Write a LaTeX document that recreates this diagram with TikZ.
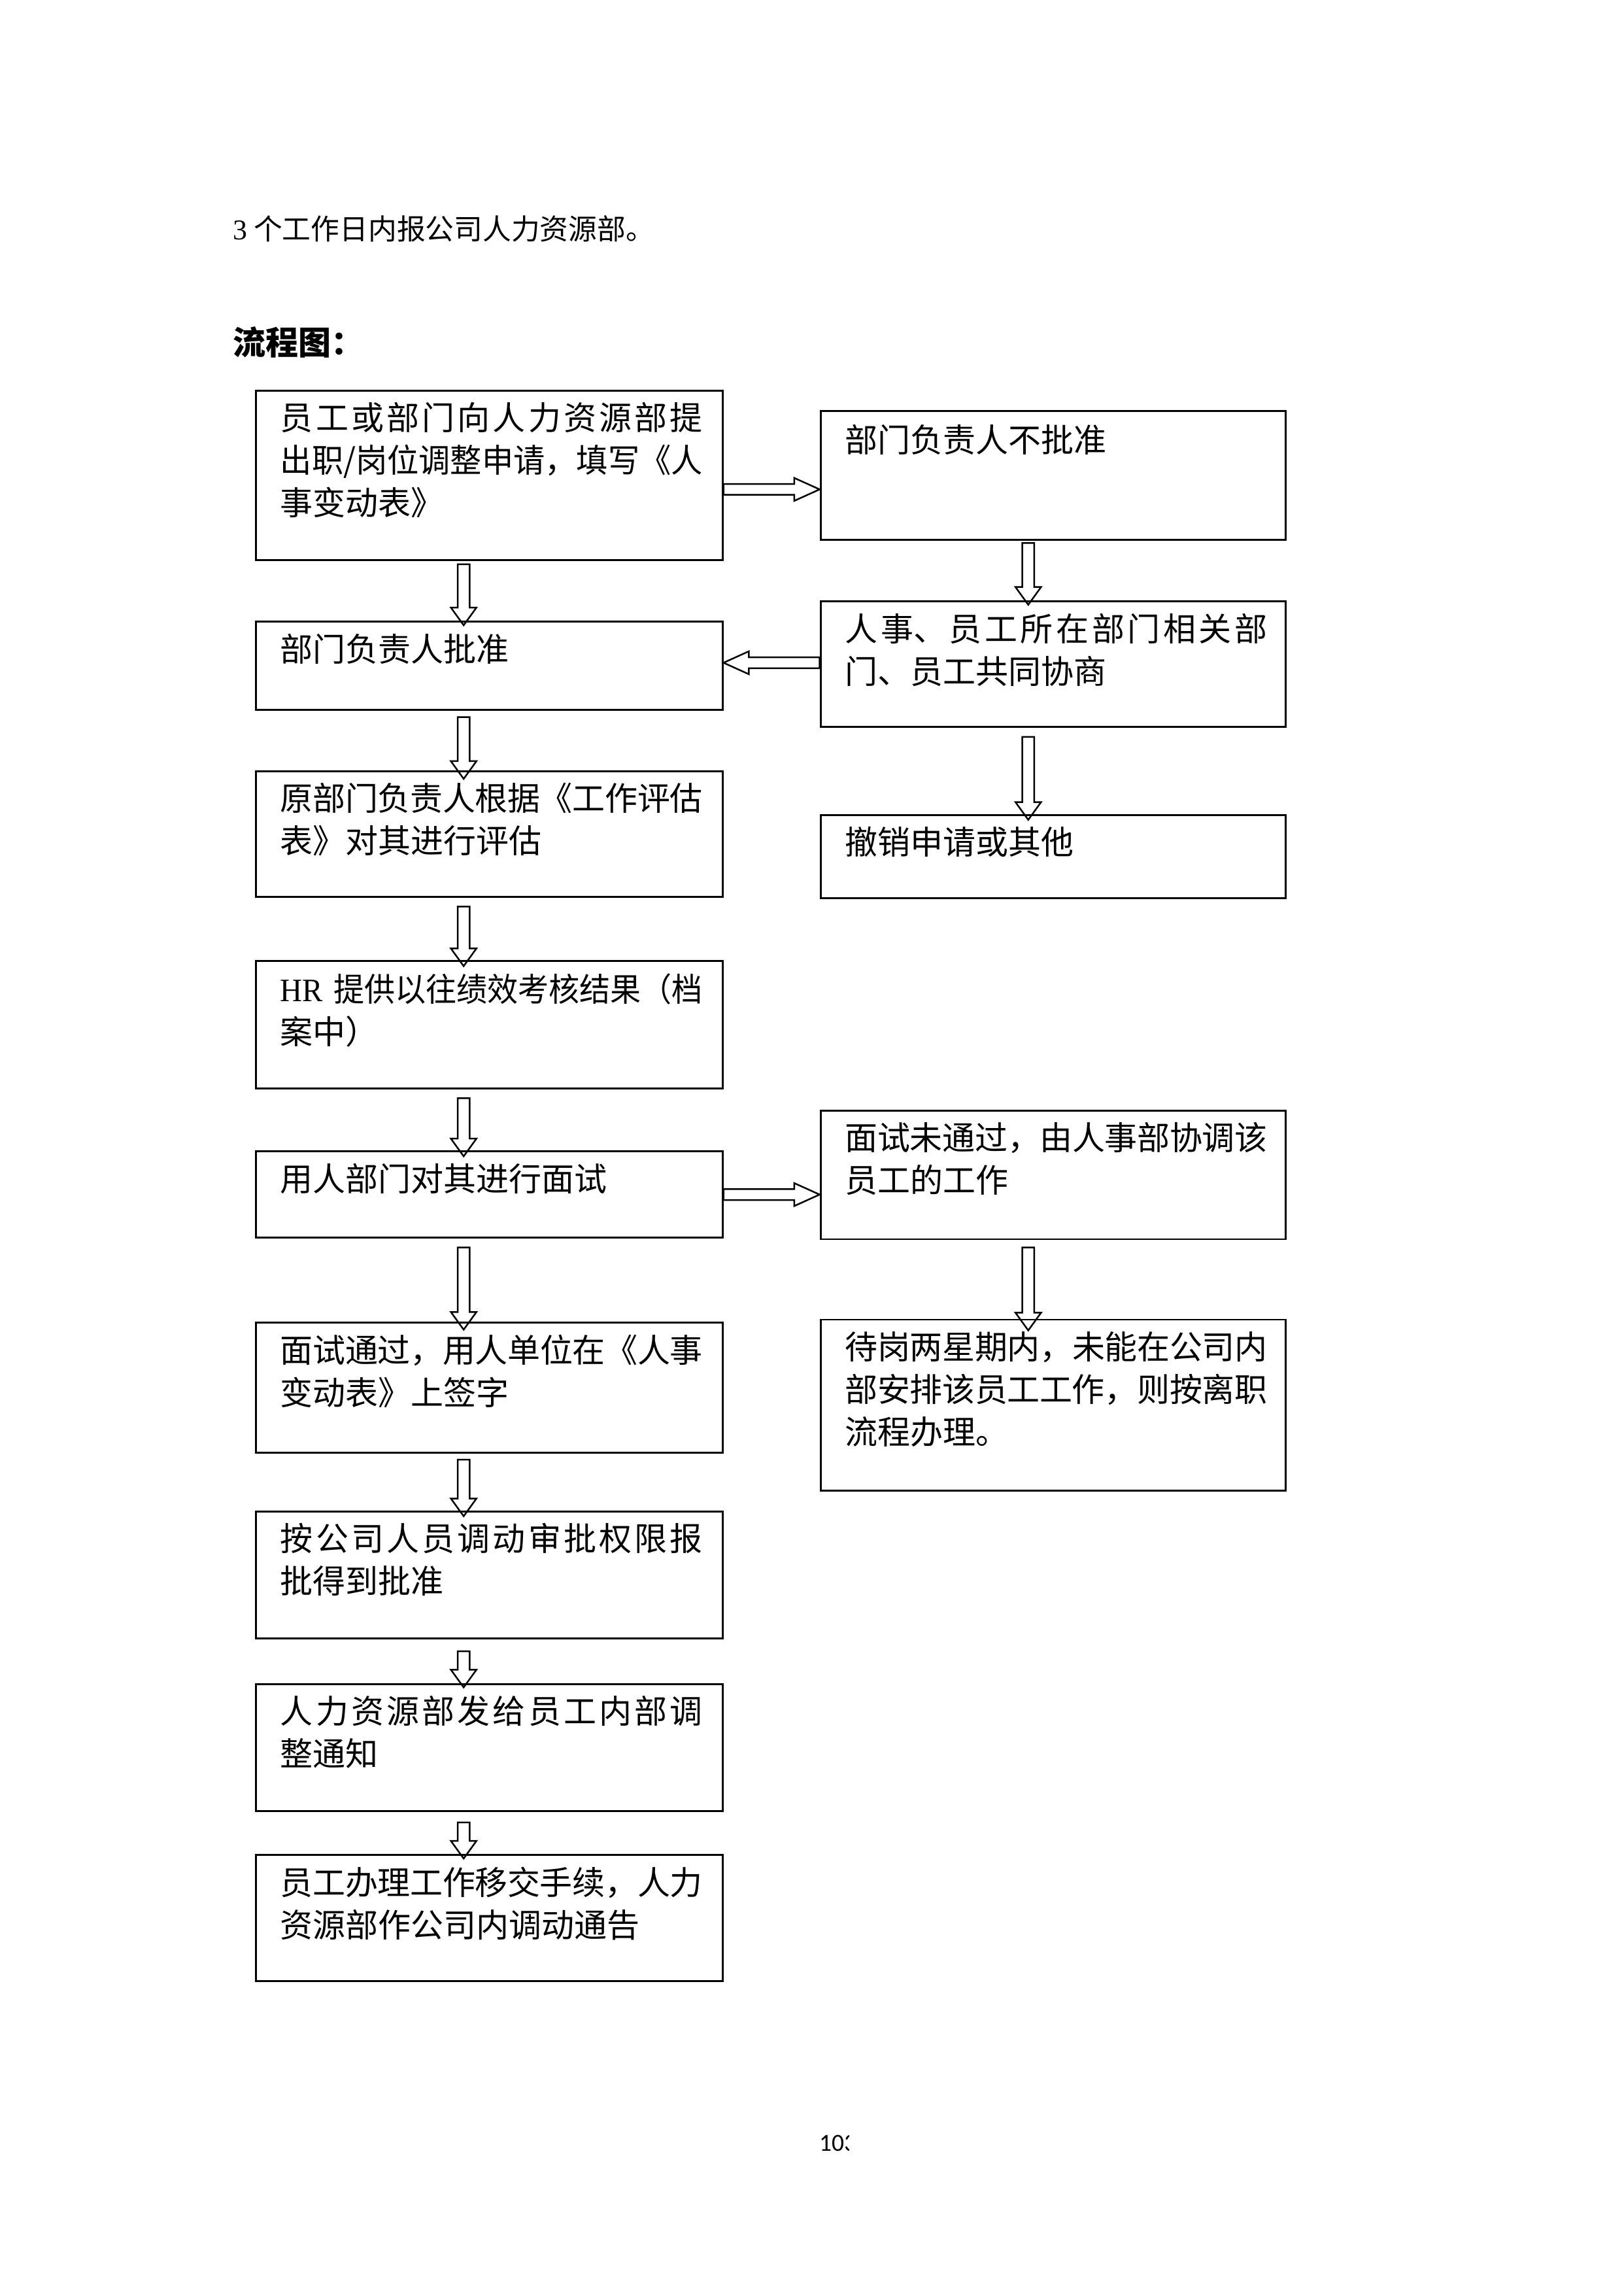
\documentclass[tikz,border=0pt]{standalone}
\usepackage{graphicx}
\usepackage{fontspec}
\setmainfont{Noto Sans CJK SC}
\newfontfamily\lat{Liberation Serif}
\newfontfamily\pgnum{Carlito}
\usetikzlibrary{fit,calc}
\XeTeXlinebreaklocale "zh"
\XeTeXlinebreakskip=0pt plus 1fil minus 1pt
\newcommand\jt[1]{\parfillskip=0pt plus 1fill\relax #1\par}
\newcommand\fitline[1]{\resizebox{\linewidth}{\height}{#1}}
% block arrows
\newcommand\darrow[2]{\draw[blk] let \p1=#1, \p2=#2 in
  (\x1-2.2pt,\y1) -- (\x1+2.2pt,\y1) -- (\x1+2.2pt,\y2+6.5pt) -- (\x1+4.7pt,\y2+6.5pt)
  -- (\x1,\y2) -- (\x1-4.7pt,\y2+6.5pt) -- (\x1-2.2pt,\y2+6.5pt) -- cycle;}
\newcommand\rarrow[2]{\draw[blk] let \p1=#1, \p2=#2 in
  (\x1,\y1+2pt) -- (\x2-9.3pt,\y1+2pt) -- (\x2-9.3pt,\y1+4.2pt) -- (\x2,\y1)
  -- (\x2-9.3pt,\y1-4.2pt) -- (\x2-9.3pt,\y1-2pt) -- (\x1,\y1-2pt) -- cycle;}
\newcommand\larrow[2]{\draw[blk] let \p1=#1, \p2=#2 in
  (\x1,\y1+2pt) -- (\x2+9.3pt,\y1+2pt) -- (\x2+9.3pt,\y1+4.2pt) -- (\x2,\y1)
  -- (\x2+9.3pt,\y1-4.2pt) -- (\x2+9.3pt,\y1-2pt) -- (\x1,\y1-2pt) -- cycle;}
\begin{document}
\begin{tikzpicture}[x=0.5369pt,y=-0.5369pt,
  box/.style={draw, line width=0.7pt, inner sep=0pt, rectangle},
  txt/.style={anchor=north west, inner sep=0pt, text width=155pt,
    font=\fontsize{12}{15.6}\selectfont},
  blk/.style={draw, line width=0.6pt, line join=miter}]
\useasboundingbox (0,0) rectangle (1110,1568);

\node[anchor=west, inner sep=0pt, font=\fontsize{10.5}{12}\selectfont] (intro) at (159,156.5)
  {{\lat 3} 个工作日内报公司人力资源部。};
\node[anchor=west, inner sep=0pt, font=\fontsize{12}{14}\selectfont\bfseries] (title) at (159,233.8)
  {流程图：};

% left column boxes
\node[box, fit={(175,267)(494,383)}] (A) {};
\node[box, fit={(175,425)(494,485)}] (B) {};
\node[box, fit={(175,527)(494,613)}] (C) {};
\node[box, fit={(175,657)(494,744)}] (D) {};
\node[box, fit={(175,787)(494,846)}] (E) {};
\node[box, fit={(175,904)(494,993)}] (F) {};
\node[box, fit={(175,1033)(494,1120)}] (G) {};
\node[box, fit={(175,1151)(494,1238)}] (H) {};
\node[box, fit={(175,1268)(494,1354)}] (I) {};
% right column boxes
\node[box, fit={(561,281)(879,369)}] (R1) {};
\node[box, fit={(561,411)(879,497)}] (R2) {};
\node[box, fit={(561,557)(879,614)}] (R3) {};
\node[box, fit={(561,759)(879,847)}] (R4) {};
\node[box, fit={(561,902)(879,1019)}] (R5) {};

% texts
\node[txt] (tA) at ($(A.north west)+(17,8.5)$) {\jt{员工或部门向人力资源部提\linebreak \fitline{出职/岗位调整申请，填写《人}\linebreak 事变动表》}};
\node[txt] (tB) at ($(B.north west)+(17,8.5)$) {\jt{部门负责人批准}};
\node[txt] (tC) at ($(C.north west)+(17,8.5)$) {\jt{原部门负责人根据《工作评估\linebreak 表》对其进行评估}};
\node[txt] (tD) at ($(D.north west)+(17,8.5)$) {\jt{\fitline{{\lat HR} 提供以往绩效考核结果（档}\linebreak 案中）}};
\node[txt] (tE) at ($(E.north west)+(17,8.5)$) {\jt{用人部门对其进行面试}};
\node[txt] (tF) at ($(F.north west)+(17,8.5)$) {\jt{面试通过，用人单位在《人事\linebreak 变动表》上签字}};
\node[txt] (tG) at ($(G.north west)+(17,8.5)$) {\jt{按公司人员调动审批权限报\linebreak 批得到批准}};
\node[txt] (tH) at ($(H.north west)+(17,8.5)$) {\jt{人力资源部发给员工内部调\linebreak 整通知}};
\node[txt] (tI) at ($(I.north west)+(17,8.5)$) {\jt{员工办理工作移交手续，人力\linebreak 资源部作公司内调动通告}};
\node[txt] (tR1) at ($(R1.north west)+(17,9.5)$) {\jt{部门负责人不批准}};
\node[txt] (tR2) at ($(R2.north west)+(17,8.5)$) {\jt{人事、员工所在部门相关部\linebreak 门、员工共同协商}};
\node[txt] (tR3) at ($(R3.north west)+(17,8.5)$) {\jt{撤销申请或其他}};
\node[txt] (tR4) at ($(R4.north west)+(17,8.5)$) {\jt{面试未通过，由人事部协调该\linebreak 员工的工作}};
\node[txt] (tR5) at ($(R5.north west)+(17,8.5)$) {\jt{待岗两星期内，未能在公司内\linebreak 部安排该员工工作，则按离职\linebreak 流程办理。}};

% column axes for vertical arrows
\coordinate (colL) at (317,0);
\coordinate (colR) at (703,0);

% vertical block arrows
\darrow{($(A.south -| colL)+(0,2)$)}{($(B.north -| colL)+(0,3)$)}
\darrow{($(B.south -| colL)+(0,4.5)$)}{($(C.north -| colL)+(0,6)$)}
\darrow{($(C.south -| colL)+(0,6)$)}{($(D.north -| colL)+(0,4)$)}
\darrow{($(D.south -| colL)+(0,6)$)}{($(E.north -| colL)+(0,4)$)}
\darrow{($(E.south -| colL)+(0,6)$)}{($(F.north -| colL)+(0,5.5)$)}
\darrow{($(F.south -| colL)+(0,4)$)}{($(G.north -| colL)+(0,4)$)}
\darrow{($(G.south -| colL)+(0,8)$)}{($(H.north -| colL)+(0,3)$)}
\darrow{($(H.south -| colL)+(0,7)$)}{($(I.north -| colL)+(0,3)$)}
\darrow{($(R1.south -| colR)+(0,1.5)$)}{($(R2.north -| colR)+(0,3)$)}
\darrow{($(R2.south -| colR)+(0,6)$)}{($(R3.north -| colR)+(0,4)$)}
\darrow{($(R4.south -| colR)+(0,5)$)}{($(R5.north -| colR)+(0,8)$)}

% horizontal block arrows
\rarrow{($(A.east)+(0,9.5)$)}{($(A.east -| R1.west)+(0,9.5)$)}
\larrow{($(R2.west)+(0,-1)$)}{($(R2.west -| B.east)+(0,-1)$)}
\rarrow{($(E.east)+(0,0)$)}{($(E.east -| R4.west)$)}

% page number (clipped as in the reference)
\begin{scope}
\clip (550,1450) rectangle (580.3,1482);
\node[anchor=west, inner sep=0pt, font=\pgnum\fontsize{9}{10}\selectfont] (pg) at (559.7,1465) {103};
\end{scope}
\end{tikzpicture}
\end{document}
